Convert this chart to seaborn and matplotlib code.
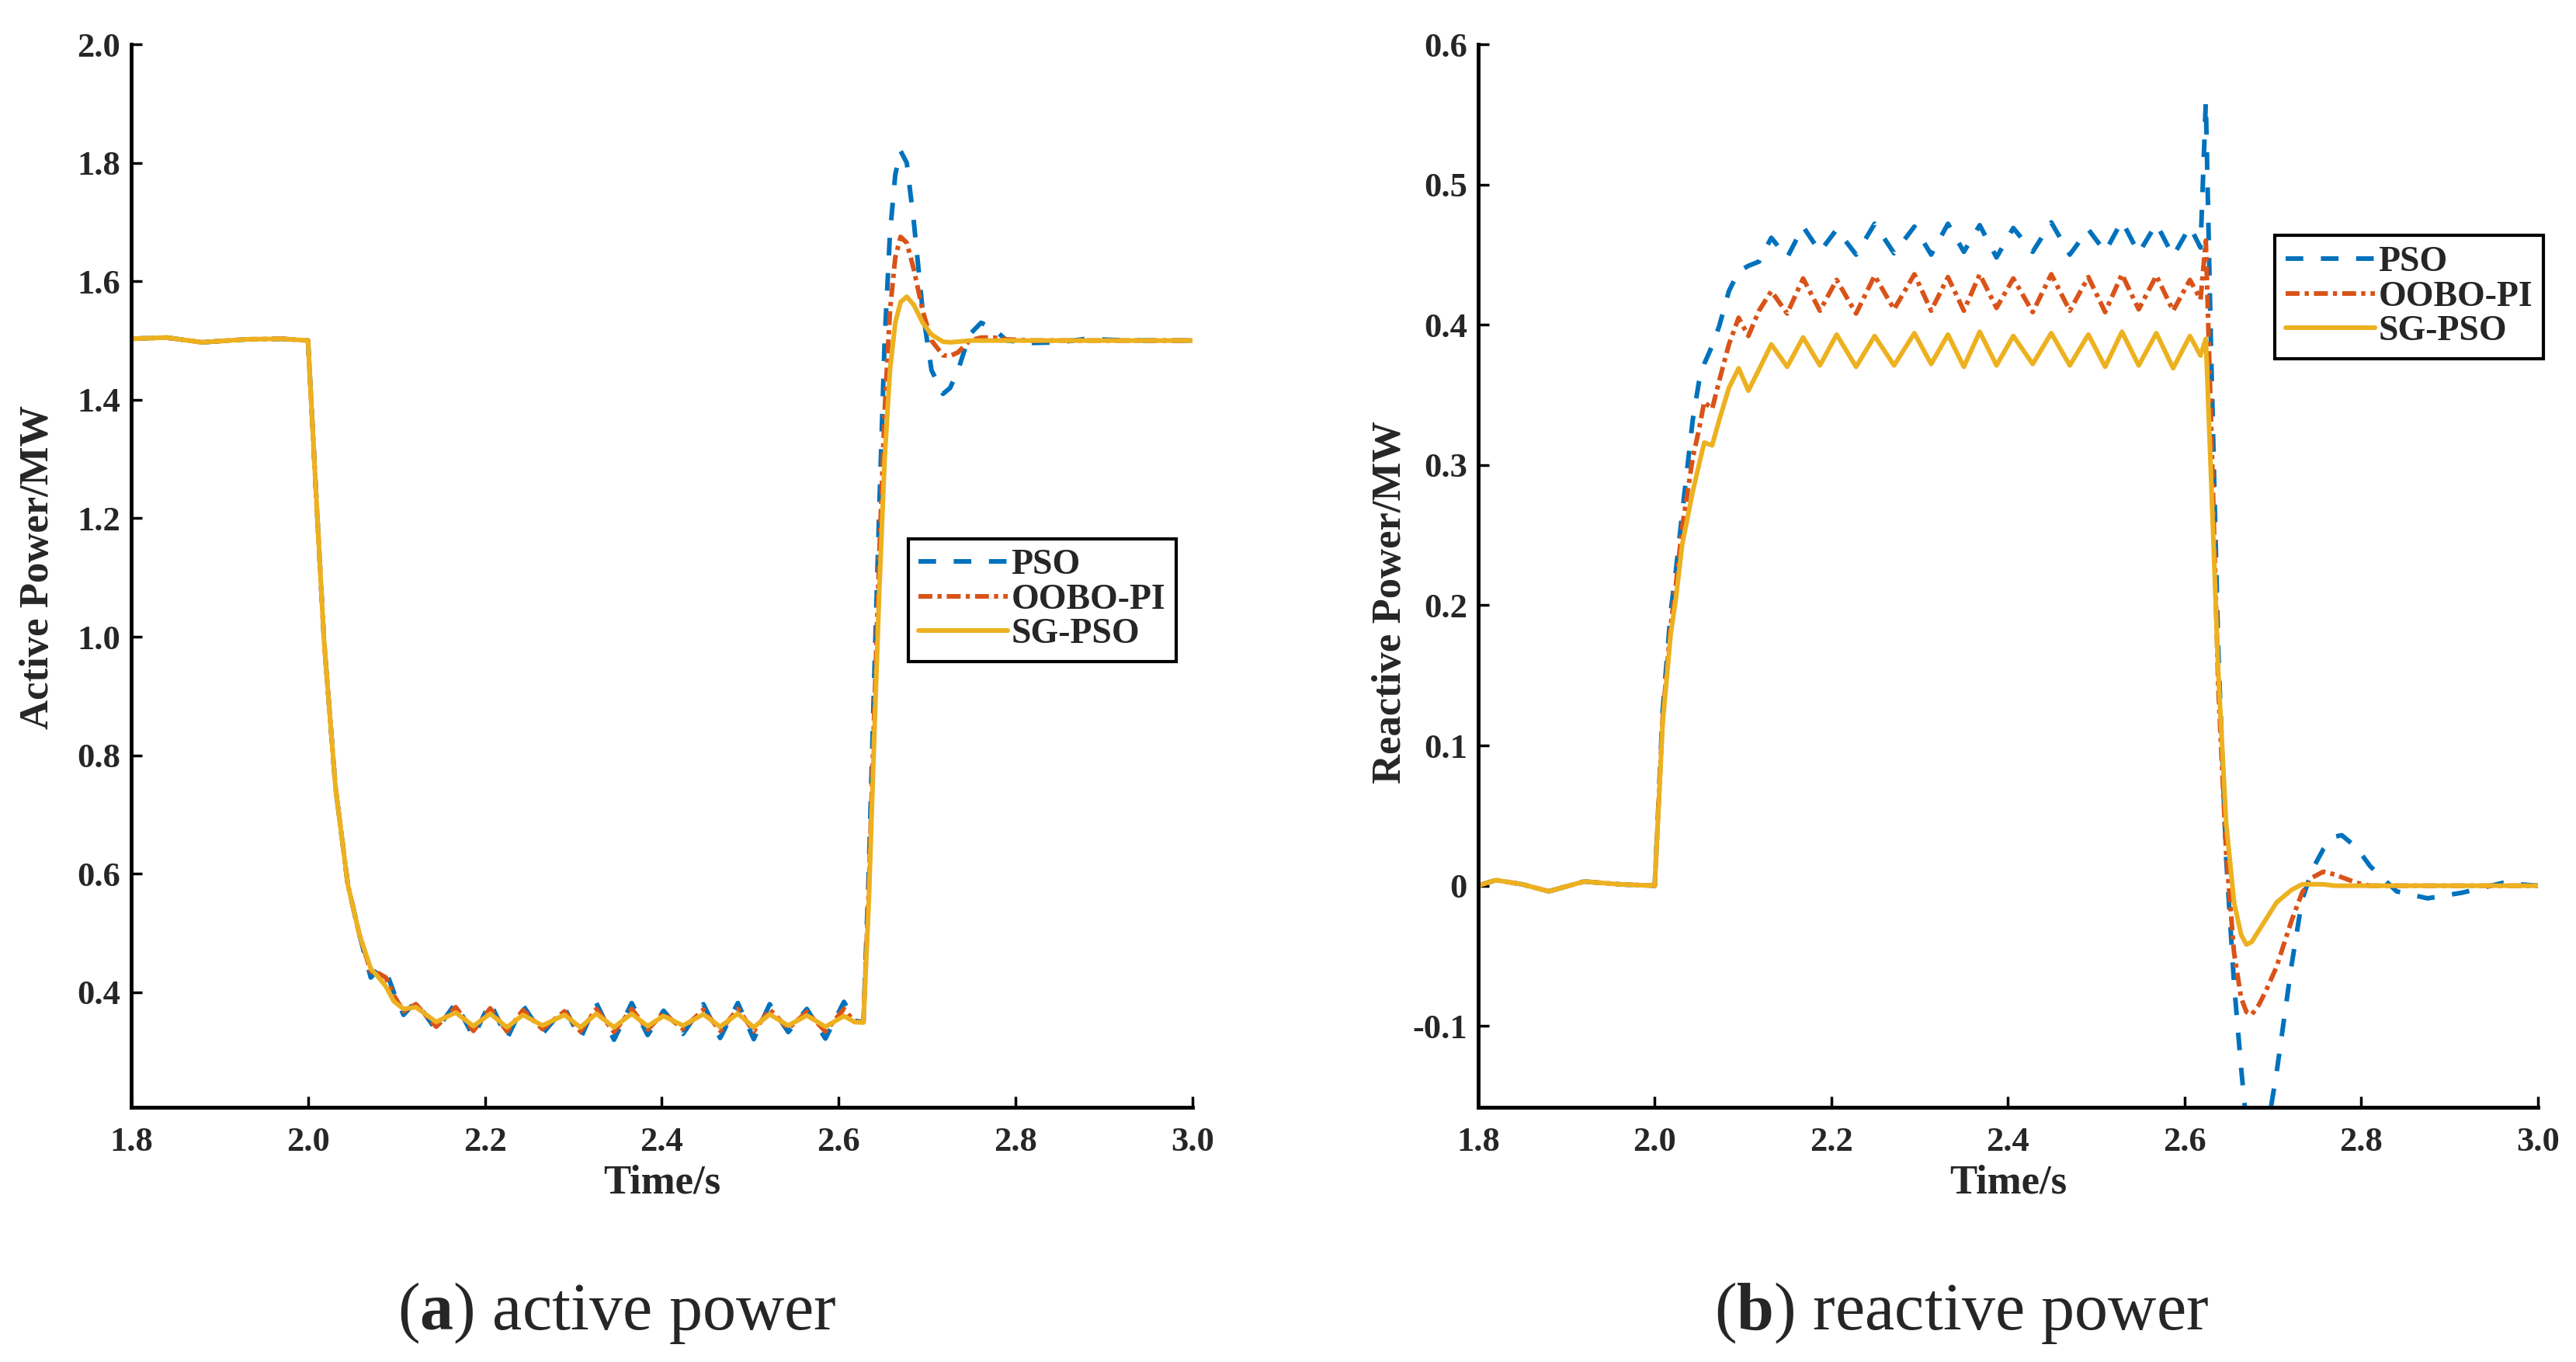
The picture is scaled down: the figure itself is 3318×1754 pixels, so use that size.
import matplotlib
matplotlib.use('Agg')
import matplotlib.pyplot as plt
import seaborn as sns

sns.set_style('ticks')
plt.rcParams['font.family'] = ['Liberation Serif', 'DejaVu Serif']
plt.rcParams['mathtext.fontset'] = 'custom'
plt.rcParams['mathtext.rm'] = 'Liberation Serif'
plt.rcParams['mathtext.bf'] = 'Liberation Serif:bold'

series_names = ['PSO', 'OOBO-PI', 'SG-PSO']
series_colors = ['#0072BD', '#D95319', '#EDB120']
series_styles = [(0, (3.8, 3.8)), (0, (3.0, 1.1, 0.9, 1.1)), '-']

# (a) active power
t_active = [1.80, 1.84, 1.88, 1.93, 1.97, 2.00,
            2.009, 2.018, 2.031, 2.045, 2.058, 2.071,
            2.080, 2.088, 2.097, 2.108,
            2.122, 2.145, 2.167, 2.187, 2.206, 2.225, 2.243, 2.265, 2.290, 2.308,
            2.326, 2.346, 2.366, 2.384, 2.402, 2.424, 2.447, 2.466, 2.486, 2.504,
            2.522, 2.543, 2.564, 2.585, 2.606, 2.618, 2.628,
            2.634, 2.640, 2.646, 2.652, 2.658, 2.664, 2.670, 2.677, 2.685, 2.695,
            2.705, 2.718, 2.726, 2.735, 2.748, 2.761, 2.775, 2.790,
            2.820, 2.850, 2.880, 2.910, 2.950, 3.000]
pso_active = [1.503, 1.505, 1.497, 1.502, 1.503, 1.500,
              1.245, 0.996, 0.747, 0.582, 0.498, 0.425,
              0.440, 0.437, 0.400, 0.362,
              0.385, 0.336, 0.382, 0.325, 0.383, 0.322, 0.378, 0.330, 0.374, 0.322,
              0.382, 0.320, 0.382, 0.328, 0.369, 0.330, 0.380, 0.323, 0.382, 0.321,
              0.380, 0.333, 0.372, 0.322, 0.384, 0.352, 0.350,
              0.600, 0.920, 1.220, 1.500, 1.680, 1.780, 1.820, 1.800, 1.700, 1.550,
              1.450, 1.410, 1.420, 1.450, 1.510, 1.530, 1.520, 1.500,
              1.496, 1.497, 1.503, 1.501, 1.500, 1.500]
oobo_active = [1.503, 1.505, 1.497, 1.502, 1.503, 1.500,
               1.245, 0.996, 0.747, 0.582, 0.498, 0.435,
               0.432, 0.425, 0.395, 0.368,
               0.380, 0.342, 0.375, 0.335, 0.373, 0.334, 0.370, 0.338, 0.368, 0.334,
               0.372, 0.333, 0.372, 0.337, 0.365, 0.338, 0.371, 0.335, 0.372, 0.334,
               0.371, 0.339, 0.367, 0.334, 0.372, 0.350, 0.350,
               0.570, 0.860, 1.140, 1.380, 1.550, 1.640, 1.675, 1.665, 1.620, 1.550,
               1.500, 1.475, 1.474, 1.480, 1.500, 1.505, 1.505, 1.502,
               1.500, 1.500, 1.500, 1.500, 1.500, 1.500]
sg_active = [1.503, 1.505, 1.497, 1.502, 1.503, 1.500,
             1.245, 0.996, 0.747, 0.582, 0.498, 0.440,
             0.425, 0.410, 0.385, 0.372,
             0.375, 0.350, 0.366, 0.343, 0.364, 0.341, 0.362, 0.344, 0.362, 0.341,
             0.364, 0.341, 0.364, 0.343, 0.360, 0.344, 0.363, 0.342, 0.364, 0.341,
             0.363, 0.344, 0.361, 0.342, 0.360, 0.350, 0.349,
             0.550, 0.820, 1.080, 1.300, 1.450, 1.530, 1.565, 1.574, 1.560, 1.530,
             1.510, 1.498, 1.497, 1.498, 1.500, 1.500, 1.500, 1.500,
             1.500, 1.500, 1.500, 1.500, 1.500, 1.500]

# (b) reactive power
t_reactive = [1.80, 1.82, 1.85, 1.88, 1.92, 1.96, 2.00,
              2.009, 2.018, 2.024, 2.031, 2.043, 2.050, 2.056, 2.065, 2.073, 2.084,
              2.095, 2.106, 2.118,
              2.132, 2.150, 2.168, 2.187, 2.206, 2.228, 2.249, 2.271, 2.294, 2.313,
              2.332, 2.350, 2.368, 2.387, 2.406, 2.428, 2.449, 2.470, 2.491, 2.510,
              2.529, 2.548, 2.568, 2.587, 2.606, 2.618,
              2.624, 2.630, 2.638, 2.647, 2.656, 2.664, 2.670, 2.676, 2.684, 2.692,
              2.704, 2.721, 2.733, 2.745, 2.757, 2.770, 2.778, 2.795, 2.810, 2.840,
              2.875, 2.914, 2.960, 3.000]
pso_reactive = [0.000, 0.004, 0.001, -0.004, 0.003, 0.001, 0.000,
                0.125, 0.195, 0.225, 0.265, 0.332, 0.359, 0.372, 0.385, 0.399, 0.424,
                0.438, 0.442, 0.445,
                0.462, 0.448, 0.470, 0.452, 0.468, 0.450, 0.472, 0.451, 0.470, 0.450,
                0.472, 0.452, 0.471, 0.448, 0.469, 0.452, 0.473, 0.450, 0.468, 0.452,
                0.474, 0.451, 0.472, 0.449, 0.470, 0.455,
                0.559, 0.380, 0.170, 0.020, -0.070, -0.130, -0.170, -0.195, -0.205, -0.180,
                -0.134, -0.057, -0.010, 0.012, 0.026, 0.035, 0.036, 0.027, 0.014, -0.004,
                -0.009, -0.005, 0.002, 0.000]
oobo_reactive = [0.000, 0.004, 0.001, -0.004, 0.003, 0.001, 0.000,
                 0.120, 0.185, 0.215, 0.255, 0.305, 0.325, 0.345, 0.340, 0.360, 0.386,
                 0.405, 0.392, 0.410,
                 0.424, 0.408, 0.433, 0.410, 0.432, 0.408, 0.435, 0.411, 0.436, 0.410,
                 0.434, 0.410, 0.436, 0.412, 0.433, 0.409, 0.436, 0.410, 0.434, 0.409,
                 0.436, 0.411, 0.435, 0.410, 0.432, 0.418,
                 0.460, 0.330, 0.143, 0.024, -0.048, -0.080, -0.090, -0.092, -0.085, -0.075,
                 -0.058, -0.025, -0.005, 0.006, 0.010, 0.008, 0.006, 0.002, 0.000, 0.000,
                 0.000, 0.000, 0.000, 0.000]
sg_reactive = [0.000, 0.004, 0.001, -0.004, 0.003, 0.001, 0.000,
               0.116, 0.179, 0.205, 0.243, 0.281, 0.300, 0.316, 0.314, 0.332, 0.355,
               0.369, 0.353, 0.368,
               0.386, 0.370, 0.391, 0.371, 0.393, 0.370, 0.392, 0.371, 0.394, 0.372,
               0.393, 0.370, 0.395, 0.371, 0.392, 0.372, 0.394, 0.371, 0.393, 0.370,
               0.395, 0.371, 0.394, 0.369, 0.392, 0.378,
               0.390, 0.290, 0.154, 0.045, -0.012, -0.035, -0.042, -0.040, -0.032, -0.024,
               -0.012, -0.003, 0.001, 0.001, 0.001, 0.000, 0.000, 0.000, 0.000, 0.000,
               0.000, 0.000, 0.000, 0.000]

x_ticks = [1.8, 2.0, 2.2, 2.4, 2.6, 2.8, 3.0]
x_labels = ['1.8', '2.0', '2.2', '2.4', '2.6', '2.8', '3.0']
active_ticks = [0.4, 0.6, 0.8, 1.0, 1.2, 1.4, 1.6, 1.8, 2.0]
active_labels = ['0.4', '0.6', '0.8', '1.0', '1.2', '1.4', '1.6', '1.8', '2.0']
reactive_ticks = [-0.1, 0, 0.1, 0.2, 0.3, 0.4, 0.5, 0.6]
reactive_labels = ['-0.1', '0', '0.1', '0.2', '0.3', '0.4', '0.5', '0.6']


def draw_panel(ax, t, series, ylim, yticks, ylabels, ylabel, ylabel_pos, legend_pos):
    for values, name, color, style in zip(series, series_names, series_colors, series_styles):
        sns.lineplot(x=t, y=values, ax=ax, color=color, linewidth=4.3, label=name,
                     estimator=None, sort=False)
        ax.lines[-1].set_linestyle(style)
    ax.set_xlim(1.8, 3.0)
    ax.set_ylim(*ylim)
    ax.set_xticks(x_ticks, x_labels, fontsize=32, fontweight='bold')
    ax.set_yticks(yticks, ylabels, fontsize=32, fontweight='bold')
    ax.tick_params(direction='in', length=10, width=2.5, color='black')
    ax.tick_params(axis='x', pad=18)
    ax.tick_params(axis='y', pad=10)
    sns.despine(ax=ax)
    for side in ['left', 'bottom']:
        ax.spines[side].set_linewidth(3.5)
        ax.spines[side].set_color('black')
    ax.set_xlabel('Time/s', fontsize=38, fontweight='bold')
    ax.xaxis.set_label_coords(0.5, -0.054)
    ax.set_ylabel(ylabel, fontsize=38, fontweight='bold')
    ax.yaxis.set_label_coords(*ylabel_pos)
    leg = ax.legend(loc='upper left', bbox_to_anchor=legend_pos, borderaxespad=0,
                    frameon=True, fancybox=False, framealpha=1, edgecolor='black',
                    prop={'size': 33, 'weight': 'bold'}, borderpad=0.3,
                    labelspacing=0.05, handlelength=2.5, handletextpad=0.1)
    leg.get_frame().set_linewidth(3)


fig = plt.figure(figsize=(33.18, 17.54), dpi=100)
ax_a = fig.add_axes([0.0509, 0.187, 0.412, 0.7805])
ax_b = fig.add_axes([0.5738, 0.187, 0.4114, 0.7805])

draw_panel(ax_a, t_active, [pso_active, oobo_active, sg_active], (0.206, 2.0),
           active_ticks, active_labels, 'Active Power/MW', (-0.070, 0.508), (0.732, 0.535))
draw_panel(ax_b, t_reactive, [pso_reactive, oobo_reactive, sg_reactive], (-0.158, 0.6),
           reactive_ticks, reactive_labels, 'Reactive Power/MW', (-0.065, 0.475), (0.752, 0.820))

fig.text(0.2395, 0.036, r'($\mathbf{a}$) active power', ha='center', va='center', fontsize=62)
fig.text(0.7615, 0.036, r'($\mathbf{b}$) reactive power', ha='center', va='center', fontsize=62)

fig.savefig('out.png', dpi=100)
